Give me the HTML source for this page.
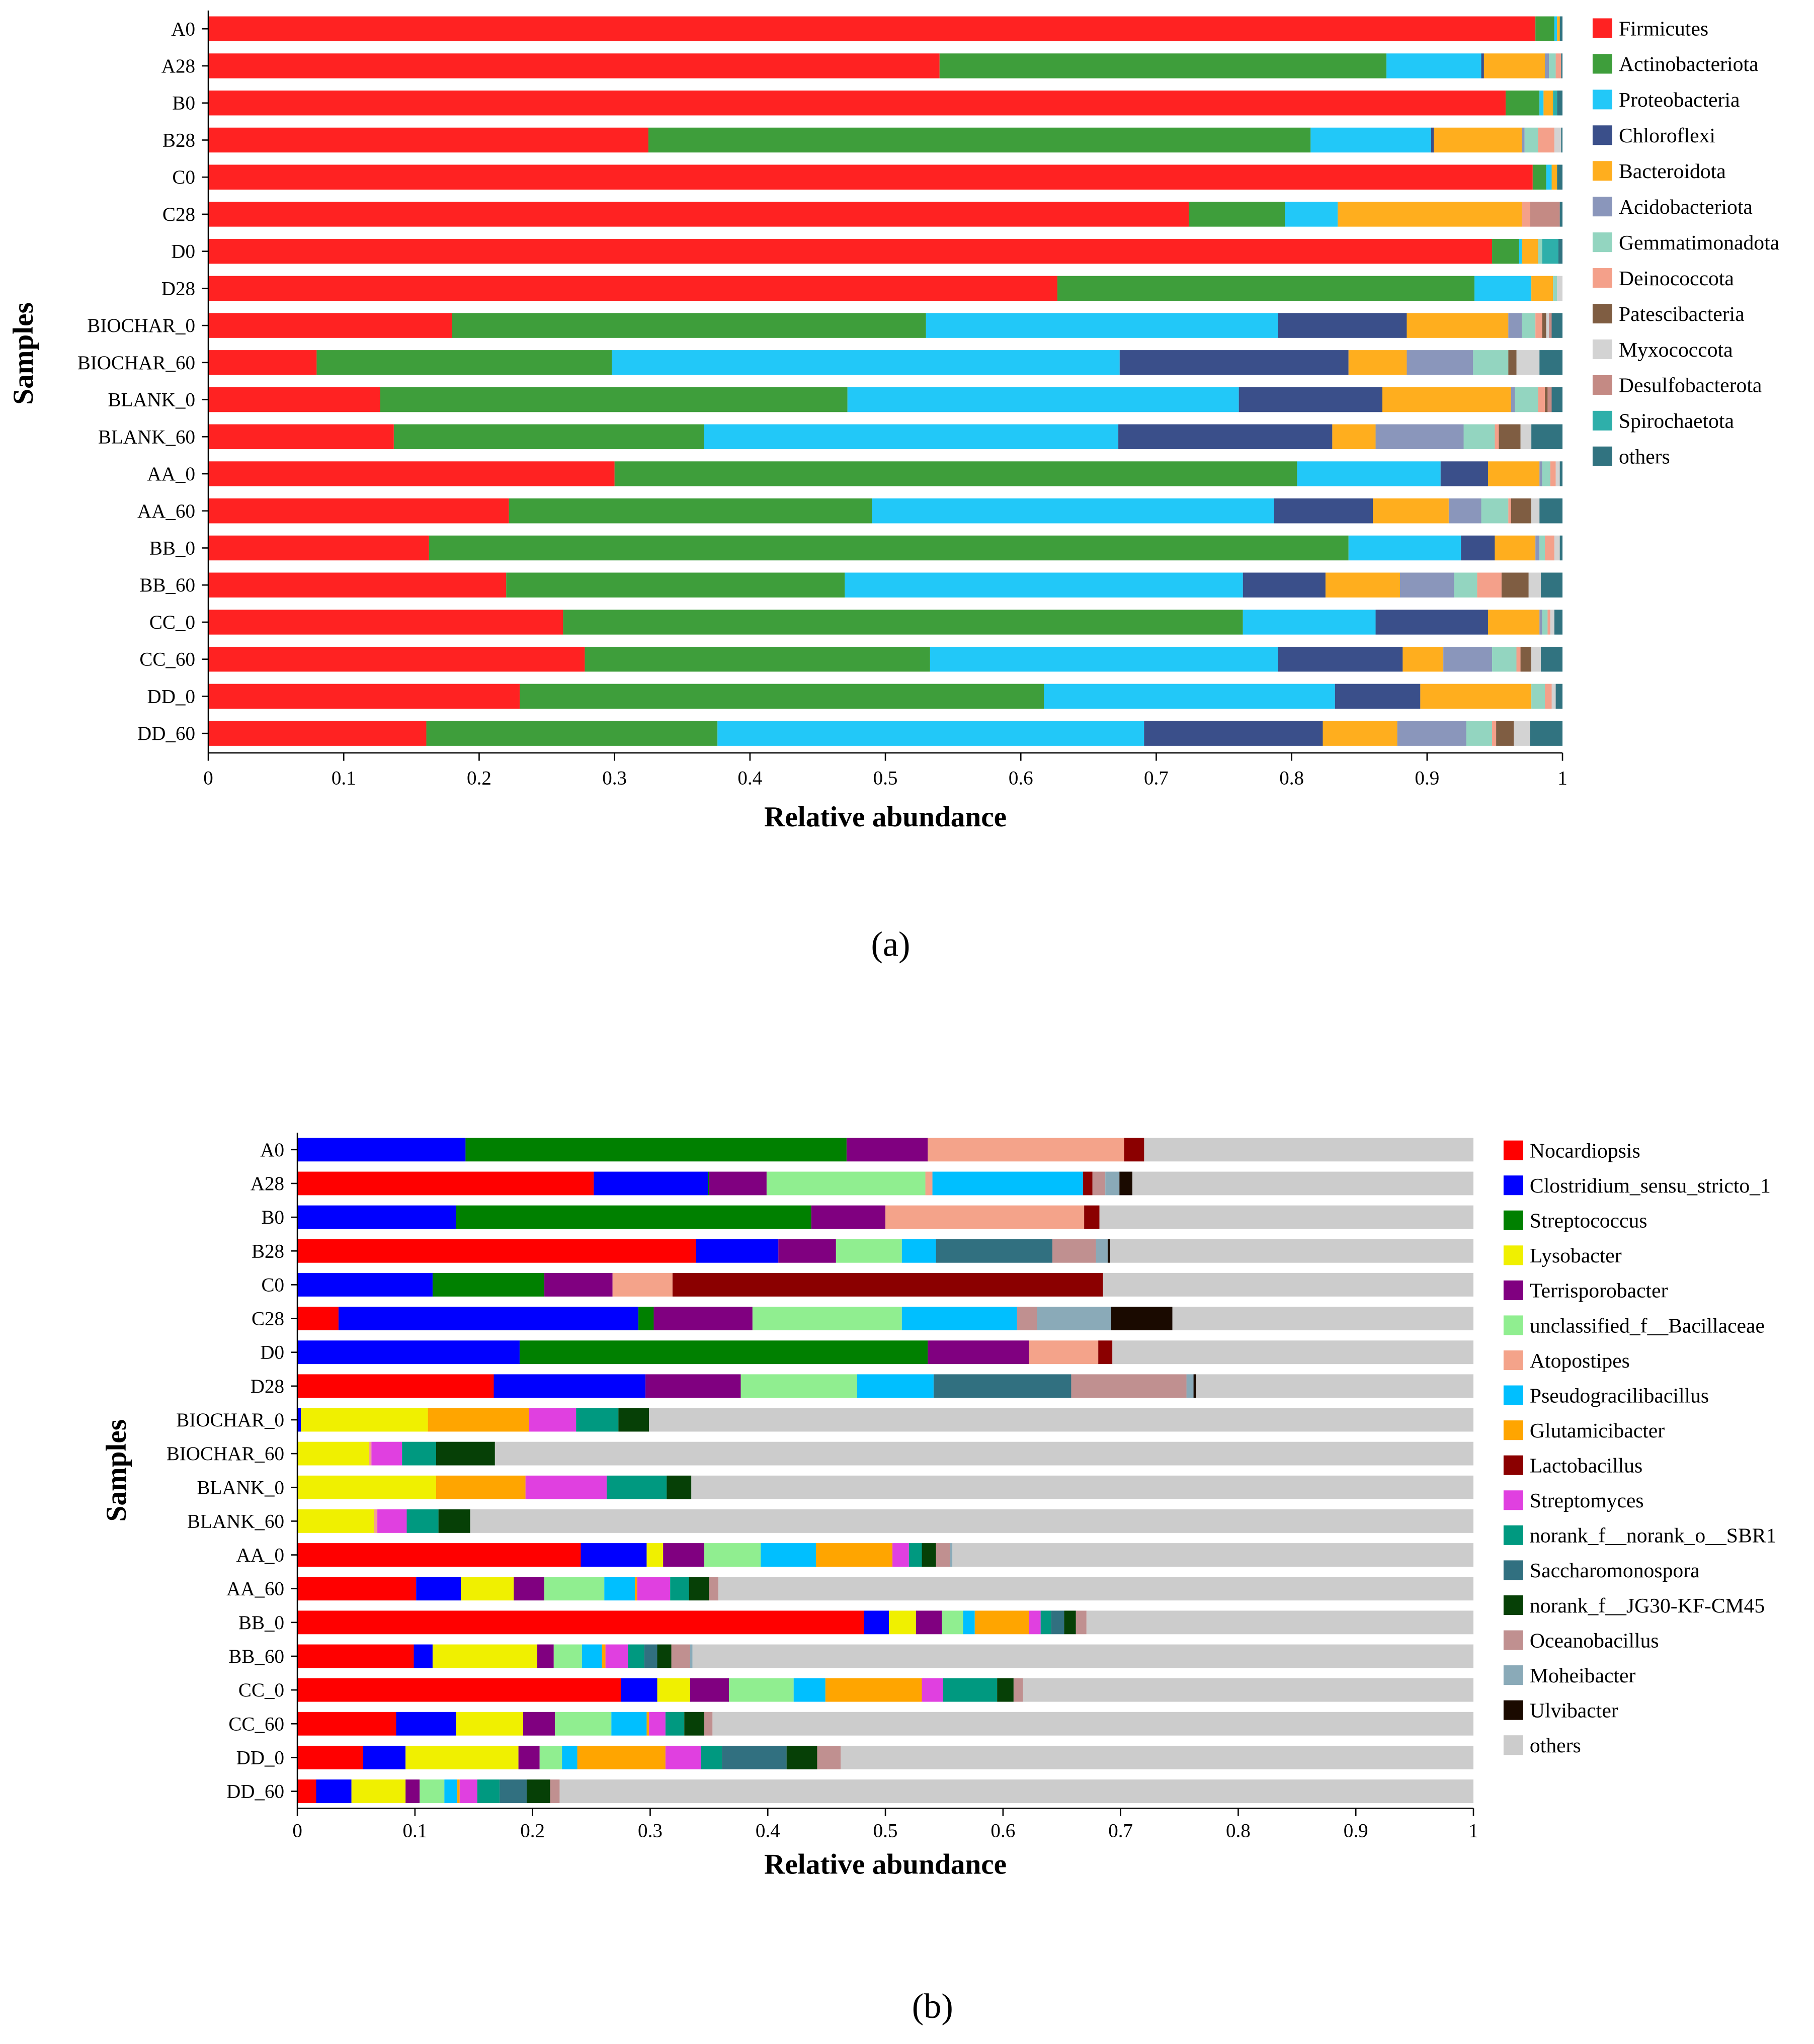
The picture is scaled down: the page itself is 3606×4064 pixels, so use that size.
<!DOCTYPE html>
<html><head><meta charset="utf-8">
<style>
html,body{margin:0;padding:0;background:#fff;}
svg{display:block;font-family:"Liberation Serif",serif;}
</style></head>
<body>
<svg id="fig" xmlns="http://www.w3.org/2000/svg" width="3606" height="4064" viewBox="0 0 1385 1561">
<rect x="0" y="0" width="1385" height="1561" fill="#fff"/>
<g id="chartA"></g>
<g id="chartB"></g>
<text x="680" y="730" font-size="27" text-anchor="middle">(a)</text>
<text x="712" y="1541" font-size="27" text-anchor="middle">(b)</text>
</svg>
<script>
// ---------- Chart A data ----------
const samplesA = ["A0","A28","B0","B28","C0","C28","D0","D28","BIOCHAR_0","BIOCHAR_60","BLANK_0","BLANK_60","AA_0","AA_60","BB_0","BB_60","CC_0","CC_60","DD_0","DD_60"];
const phyla = ["Firmicutes","Actinobacteriota","Proteobacteria","Chloroflexi","Bacteroidota","Acidobacteriota","Gemmatimonadota","Deinococcota","Patescibacteria","Myxococcota","Desulfobacterota","Spirochaetota","others"];
const phylaColors = ["#FF2222","#3E9E3B","#22C8F8","#3A4F8A","#FFAE1E","#8A96BB","#93D5C0","#F4A08A","#7F5D42","#D3D3D3","#C48A84","#2EAFAA","#317380"];
const A_A0   = [0.980,0.014,0.002,0,0.002,0,0,0,0,0,0,0,0.002];
const A_A28  = [0.540,0.330,0.070,0.002,0.045,0.003,0.005,0.004,0,0,0,0,0.001];
const A_B0   = [0.958,0.025,0.003,0,0.007,0,0,0,0,0,0,0.003,0.004];
const A_B28  = [0.325,0.489,0.089,0.002,0.065,0.002,0.010,0.012,0,0.005,0,0,0.001];
const A_C0   = [0.978,0.010,0.004,0,0.004,0,0,0,0,0,0,0,0.004];
const A_C28  = [0.724,0.071,0.039,0,0.136,0,0,0.006,0,0,0.022,0,0.002];
const A_D0   = [0.948,0.020,0.002,0,0.012,0,0.003,0,0,0,0,0.012,0.003];
const A_D28  = [0.627,0.308,0.042,0,0.016,0,0.003,0,0,0.004,0,0,0.000];
const A_BIO0 = [0.180,0.350,0.260,0.095,0.075,0.010,0.010,0.005,0.003,0.002,0.002,0,0.008];
const A_BIO60= [0.080,0.218,0.375,0.169,0.043,0.049,0.026,0,0.006,0.017,0,0,0.017];
const A_BL0  = [0.127,0.345,0.289,0.106,0.095,0.003,0.017,0.005,0.002,0,0.003,0,0.008];
const A_BL60 = [0.137,0.229,0.306,0.158,0.032,0.065,0.023,0.003,0.016,0.008,0,0,0.023];
const A_AA0  = [0.300,0.504,0.106,0.035,0.038,0.002,0.006,0.004,0,0.003,0,0,0.002];
const A_AA60 = [0.222,0.268,0.297,0.073,0.056,0.024,0.020,0.002,0.015,0.006,0,0,0.017];
const A_BB0  = [0.163,0.679,0.083,0.025,0.030,0.003,0.004,0.007,0,0.004,0,0,0.002];
const A_BB60 = [0.220,0.250,0.294,0.061,0.055,0.040,0.017,0.018,0.020,0.009,0,0,0.016];
const A_CC0  = [0.262,0.502,0.098,0.083,0.038,0.002,0.004,0.002,0,0.003,0,0,0.006];
const A_CC60 = [0.278,0.255,0.257,0.092,0.030,0.036,0.018,0.003,0.008,0.007,0,0,0.016];
const A_DD0  = [0.230,0.387,0.215,0.063,0.082,0,0.010,0.005,0,0.003,0,0,0.005];
const A_DD60 = [0.161,0.215,0.315,0.132,0.055,0.051,0.019,0.003,0.013,0.012,0,0,0.024];
const valuesA = [A_A0,A_A28,A_B0,A_B28,A_C0,A_C28,A_D0,A_D28,A_BIO0,A_BIO60,A_BL0,A_BL60,A_AA0,A_AA60,A_BB0,A_BB60,A_CC0,A_CC60,A_DD0,A_DD60];

// ---------- Chart B data ----------
const samplesB = samplesA;
const genera = ["Nocardiopsis","Clostridium_sensu_stricto_1","Streptococcus","Lysobacter","Terrisporobacter","unclassified_f__Bacillaceae","Atopostipes","Pseudogracilibacillus","Glutamicibacter","Lactobacillus","Streptomyces","norank_f__norank_o__SBR1","Saccharomonospora","norank_f__JG30-KF-CM45","Oceanobacillus","Moheibacter","Ulvibacter","others"];
const generaColors = ["#FF0000","#0000FF","#008000","#F0F000","#800080","#90EE90","#F4A38A","#00BFFF","#FFA500","#8B0000","#E040E0","#009980","#317080","#064006","#C09090","#8AAAB8","#1A0A00","#CCCCCC"];
const B_A0   = [0,0.143,0.324,0,0.069,0,0.167,0,0,0.017,0,0,0,0,0,0,0];
const B_A28  = [0.252,0.097,0.001,0,0.049,0.135,0.006,0.128,0,0.008,0,0,0,0,0.011,0.012,0.011];
const B_B0   = [0,0.135,0.302,0,0.063,0,0.169,0,0,0.013,0,0,0,0,0,0,0];
const B_B28  = [0.339,0.070,0,0,0.049,0.056,0,0.029,0,0,0,0,0.099,0,0.037,0.010,0.002];
const B_C0   = [0,0.115,0.095,0,0.058,0,0.051,0,0,0.366,0,0,0,0,0,0,0];
const B_C28  = [0.035,0.255,0.013,0,0.084,0.127,0,0.098,0,0,0,0,0,0,0.017,0.063,0.052];
const B_D0   = [0,0.189,0.347,0,0.086,0,0.059,0,0,0.012,0,0,0,0,0,0,0];
const B_D28  = [0.167,0.129,0,0,0.081,0.099,0,0.065,0,0,0,0,0.117,0,0.098,0.006,0.002];
const B_BIO0 = [0,0.003,0,0.108,0,0,0,0,0.086,0,0.040,0.036,0,0.026,0,0,0];
const B_BIO60= [0,0,0,0.061,0,0,0.002,0,0,0,0.026,0.029,0,0.050,0,0,0];
const B_BL0  = [0,0,0,0.118,0,0,0,0,0.076,0,0.069,0.051,0,0.021,0,0,0];
const B_BL60 = [0,0,0,0.065,0,0,0.003,0,0,0,0.025,0.027,0,0.027,0,0,0];
const B_AA0  = [0.241,0.056,0,0.014,0.035,0.048,0,0.047,0.065,0,0.014,0.011,0,0.012,0.012,0.002,0];
const B_AA60 = [0.101,0.038,0,0.045,0.026,0.051,0,0.026,0.002,0,0.028,0.016,0,0.017,0.008,0,0];
const B_BB0  = [0.482,0.021,0,0.023,0.022,0.018,0,0.010,0.046,0,0.010,0.009,0.011,0.010,0.009,0,0];
const B_BB60 = [0.099,0.016,0,0.089,0.014,0.024,0,0.017,0.003,0,0.019,0.014,0.011,0.012,0.016,0.002,0];
const B_CC0  = [0.275,0.031,0,0.028,0.033,0.055,0,0.027,0.082,0,0.018,0.046,0,0.014,0.008,0,0];
const B_CC60 = [0.084,0.051,0,0.057,0.027,0.048,0,0.030,0.002,0,0.014,0.016,0,0.017,0.007,0,0];
const B_DD0  = [0.056,0.036,0,0.096,0.018,0.019,0,0.013,0.075,0,0.030,0.018,0.055,0.026,0.020,0,0];
const B_DD60 = [0.016,0.030,0,0.046,0.012,0.021,0,0.011,0.002,0,0.015,0.019,0.023,0.020,0.008,0,0];
const valuesB = [B_A0,B_A28,B_B0,B_B28,B_C0,B_C28,B_D0,B_D28,B_BIO0,B_BIO60,B_BL0,B_BL60,B_AA0,B_AA60,B_BB0,B_BB60,B_CC0,B_CC60,B_DD0,B_DD60];
const xTicks = [0,0.1,0.2,0.3,0.4,0.5,0.6,0.7,0.8,0.9,1];

const NS = "http://www.w3.org/2000/svg";
function mk(parent, tag, attrs, text){
  const e = document.createElementNS(NS, tag);
  for (const k in attrs) e.setAttribute(k, attrs[k]);
  if (text !== undefined) e.textContent = text;
  parent.appendChild(e);
  return e;
}

function drawChart(g, cfg){
  const xs = v => cfg.x0 + v*(cfg.x1-cfg.x0);
  const ys = i => cfg.yFirst + i*cfg.step;
  cfg.samples.forEach((s,i)=>{
    let cum = 0;
    const vals = cfg.values[i];
    const n = cfg.cats.length;
    for (let k=0;k<n;k++){
      let v = (k === n-1) ? Math.max(0, 1-cum) : (vals[k] || 0);
      if (v <= 0) continue;
      const r = mk(g,"rect",{x:xs(cum),y:ys(i)-cfg.bh/2,width:xs(cum+v)-xs(cum),height:cfg.bh,fill:cfg.colors[k]});
      
      
      cum += v;
    }
    const t = mk(g,"text",{x:cfg.x0-10,y:ys(i)+5,"font-size":15,"text-anchor":"end"}, s);
    
    
    const tk = mk(g,"line",{x1:cfg.x0-5,x2:cfg.x0,y1:ys(i),y2:ys(i),stroke:"#000","stroke-width":1});
    
    
  });
  const ya = mk(g,"line",{x1:cfg.x0,x2:cfg.x0,y1:cfg.axTop,y2:cfg.axY,stroke:"#000","stroke-width":1});
  
  
  const xa = mk(g,"line",{x1:cfg.x0,x2:cfg.x1,y1:cfg.axY,y2:cfg.axY,stroke:"#000","stroke-width":1});
  
  
  xTicks.forEach(v=>{
    const l = mk(g,"line",{x1:xs(v),x2:xs(v),y1:cfg.axY,y2:cfg.axY+6,stroke:"#000","stroke-width":1});
    
    
    const t = mk(g,"text",{x:xs(v),y:cfg.axY+cfg.tickOff,"font-size":15,"text-anchor":"middle"}, String(v));
    
    
  });
  const xt = mk(g,"text",{x:(cfg.x0+cfg.x1)/2,y:cfg.axY+cfg.titleOff,"font-size":22,"font-weight":"bold","text-anchor":"middle"}, "Relative abundance");
  
  
  const yt = mk(g,"text",{x:0,y:0,"font-size":22,"font-weight":"bold","text-anchor":"middle",transform:`translate(${cfg.ytX},${cfg.ytY}) rotate(-90)`}, "Samples");
  
  
  cfg.cats.forEach((c,k)=>{
    const y = cfg.legY + k*cfg.legStep;
    const sw = mk(g,"rect",{x:cfg.legX,y:y-7,width:15,height:15,fill:cfg.colors[k]});
    
    
    const t = mk(g,"text",{x:cfg.legX+20,y:y+6,"font-size":16}, c);
    
    
  });
}

drawChart(document.getElementById("chartA"), {
  samples:samplesA, values:valuesA, cats:phyla, colors:phylaColors,
  x0:159, x1:1193, yFirst:22, step:28.32, bh:19, axTop:8, axY:575,
  tickOff:24, titleOff:56,
  ytX:25, ytY:270, legX:1216, legY:21, legStep:27.25
});
drawChart(document.getElementById("chartB"), {
  samples:samplesB, values:valuesB, cats:genera, colors:generaColors,
  x0:227, x1:1125, yFirst:878, step:25.79, bh:18, axTop:865, axY:1381,
  tickOff:22, titleOff:50,
  ytX:96, ytY:1123, legX:1148, legY:878, legStep:26.72
});
</script>
</body></html>
